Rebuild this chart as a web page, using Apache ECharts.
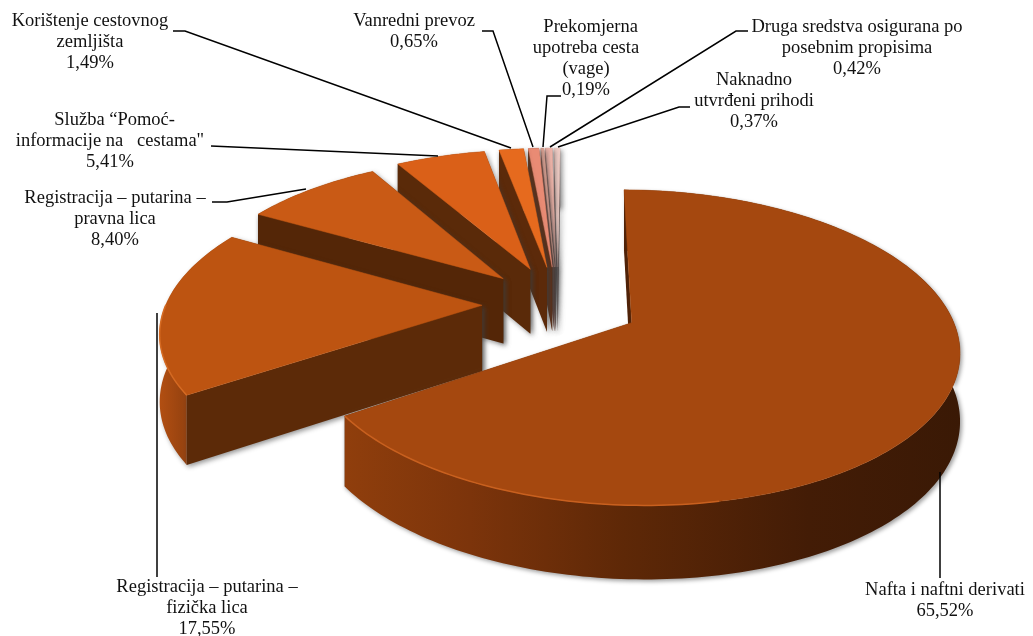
<!DOCTYPE html>
<html><head><meta charset="utf-8">
<style>html,body{margin:0;padding:0;background:#fff}#c{width:1033px;height:636px}</style>
<script src="https://cdn.jsdelivr.net/npm/echarts@6/dist/echarts.min.js"></script>
</head><body><div id="c"></div>
<script>
const categories = ['Nafta i naftni derivati','Registracija – putarina –\nfizička lica','Registracija – putarina –\npravna lica','  Služba “Pomoć-\ninformacije na   cestama"','Korištenje cestovnog\nzemljišta','Vanredni prevoz','  Prekomjerna\nupotreba cesta\n(vage)','Druga sredstva osigurana po\nposebnim propisima','Naknadno\nutvrđeni prihodi'];
const values = [65.52,17.55,8.40,5.41,1.49,0.65,0.19,0.42,0.37];
const explode = [0.26,0.24,0.25,0.26,0.26,0.26,0.26,0.26,0.26];
const topColors = ['#A5480F','#BD5411','#C95A15','#DA6018','#E66A1E','#E98B74','#DDA394','#EDB3A8','#EFCCC5'];
const wallColors = ['#4F2208','#5C2A08','#542607','#5A2A09','#5C2A0A','#5E3018','#6E4A40','#6E5550','#7A6A68'];
const rimColors = ['#C8601F','#D56A22','#C95A15','#DA6018','#E66A1E','#E98B74','#DDA394','#EDB3A8','#EFCCC5'];
const labelCentres = [[945,590],[207,587],[115,198],[110,120],[90,21],[414,21],[586,27],[857,27],[754,80]];
const leaders = [
 [[940,578],[940,472]],
 [[157,577],[157,313]],
 [[212,202],[227,202],[306,189]],
 [[211,146],[438,156]],
 [[173,31],[185,31],[511,148]],
 [[482,31],[493,31],[533,147]],
 [[561,96],[547,96],[543,147]],
 [[748,31],[736,31],[550,147]],
 [[690,107],[679,107],[558,147]]
];
const cx=558, cy=304, a=316, b=148, k=0.155, h=66, rot=0.5*Math.PI/180;
const total = values.reduce((p,c)=>p+c,0);
const starts = []; values.reduce((p,c,i)=>{starts[i]=p;return p+c;},0);
const toAng = v => v/total*Math.PI*2;
function proj(u,v,z){const s=1/(1+k*v);return [cx+a*u*s, cy-b*v*s+z*h*Math.pow(s,.6)];}
function fmt(v){return v.toFixed(2).replace('.',',')+'%';}
const sideGrad = [
 new echarts.graphic.LinearGradient(347,0,962,0,[{offset:0,color:'#8F3E0C'},{offset:.2,color:'#7C340B'},{offset:.45,color:'#5E2807'},{offset:.75,color:'#431C06'},{offset:1,color:'#3A1905'}],true),
 new echarts.graphic.LinearGradient(157,0,195,0,[{offset:0,color:'#B55012'},{offset:1,color:'#8A3D0E'}],true)
];
function renderItem(params,api){
  const i=api.value(1), val=api.value(0), e=explode[i];
  const t0=rot+toAng(starts[i]), t1=t0+toAng(val), mid=(t0+t1)/2;
  const ox=e*Math.sin(mid), oy=e*Math.cos(mid);
  const P=(r,t,z)=>proj(ox+r*Math.sin(t),oy+r*Math.cos(t),z);
  const arcTop=[],arcBot=[],n=Math.max(4,Math.ceil((t1-t0)/0.02));
  for(let j=0;j<=n;j++){const t=t0+(t1-t0)*j/n;arcTop.push(P(1,t,0));arcBot.push(P(1,t,1));}
  const base=(values.length-i)*10, kids=[];
  const poly=(pts,style,off)=>kids.push({type:'polygon',z2:base+off,shape:{points:pts},style:style,silent:true});
  const shadow={shadowColor:'rgba(60,60,60,.55)',shadowBlur:5,shadowOffsetX:2,shadowOffsetY:2};
  poly([P(0,t1,0),P(1,t1,0),P(1,t1,1),P(0,t1,1)],Object.assign({fill:wallColors[i]},shadow),0);
  poly(arcTop.concat(arcBot.slice().reverse()),Object.assign({fill:sideGrad[i]||wallColors[i]},i===0?{shadowColor:'rgba(60,60,60,.5)',shadowBlur:4,shadowOffsetX:2,shadowOffsetY:2}:shadow),1);
  poly([P(0,t0,0),P(1,t0,0),P(1,t0,1),P(0,t0,1)],Object.assign({fill:wallColors[i]},i===0?{}:shadow),2);
  poly([P(0,t0,0)].concat(arcTop),{fill:topColors[i],stroke:topColors[i],lineWidth:.5},3);
  if(i<2) kids.push({type:'polyline',z2:base+4,shape:{points:arcTop.filter(p=>i===0?(p[0]<720&&p[1]>cy):p[1]>cy)},style:{fill:null,stroke:rimColors[i],lineWidth:1.5},silent:true});
  kids.push({type:'polyline',z2:500,shape:{points:leaders[i]},style:{fill:null,stroke:'#000',lineWidth:1.5},silent:true});
  kids.push({type:'text',z2:501,x:labelCentres[i][0],y:labelCentres[i][1]-10.6,silent:true,
    style:{text:categories[i]+'\n'+fmt(val),x:0,y:0,align:'center',verticalAlign:'top',font:'18.5px "Liberation Serif"',fill:'#111',lineHeight:21.2}});
  return {type:'group',children:kids};
}
const chart=echarts.init(document.getElementById('c'),null,{renderer:'canvas'});
chart.setOption({animation:false,backgroundColor:'#fff',
 series:[{type:'custom',coordinateSystem:'none',renderItem:renderItem,silent:true,clip:false,
  data:categories.map((c,i)=>({name:c,value:[values[i],i]}))}]});
</script></body></html>
